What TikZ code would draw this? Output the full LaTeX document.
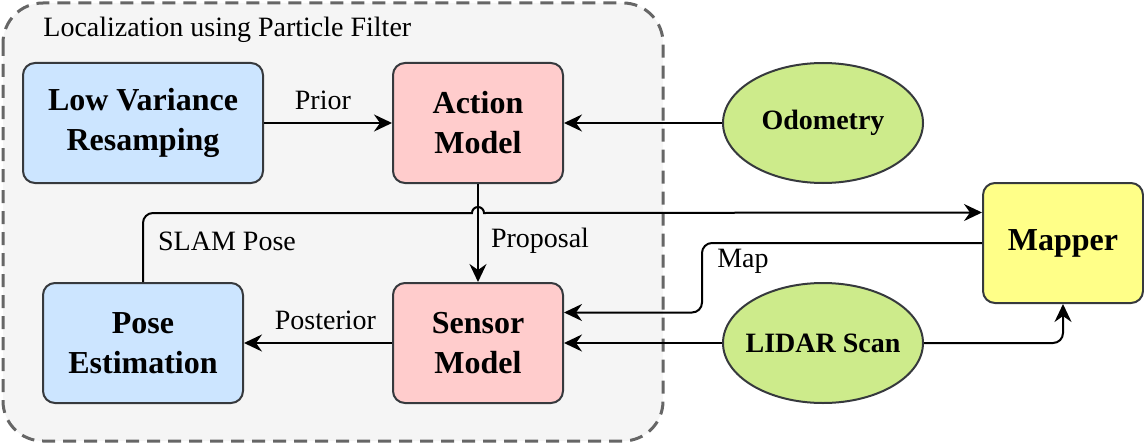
\documentclass[tikz,border=0pt]{standalone}
\usepackage{fontspec}
\setmainfont{Liberation Serif}
\usetikzlibrary{arrows.meta,calc,shapes.geometric}
\definecolor{blueF}{HTML}{CCE5FF}
\definecolor{redF}{HTML}{FFCCCC}
\definecolor{greenF}{HTML}{CDEB8B}
\definecolor{yellowF}{HTML}{FFFF88}
\definecolor{edgeD}{HTML}{36393D}
\definecolor{groupF}{HTML}{F5F5F5}
\definecolor{groupD}{HTML}{666666}
\tikzset{
  box/.style={draw=edgeD, line width=1pt, rounded corners=6pt, align=center,
    minimum height=60pt, font=\fontsize{16}{20}\selectfont\bfseries},
  ell/.style={ellipse, draw=edgeD, line width=1pt, fill=greenF,
    minimum width=100pt, minimum height=60pt, inner sep=0pt},
  elltext/.style={font=\fontsize{14}{17}\selectfont\bfseries},
  lbl/.style={font=\fontsize{14}{17}\selectfont, inner sep=0pt},
  conn/.style={-{Stealth[length=9pt,width=8.5pt,inset=3pt]}, line width=1pt}
}

\begin{document}
\begin{tikzpicture}[x=0.5pt,y=-0.5pt]
    \useasboundingbox (0,0) rectangle (1144,444);
    % group
    \draw[groupD, fill=groupF, line width=1.5pt, dash pattern=on 6.5pt off 4pt,
      rounded corners=20pt] (3,3) rectangle (663,441);
    \node[lbl, anchor=base west] (title) at (43,37) {Localization using Particle Filter};
    % blocks
    \node[box, fill=blueF, minimum width=120pt] (resamp) at (143,123) {Low Variance\\Resamping};
    \node[box, fill=redF, minimum width=85pt] (action) at (478,123) {Action\\Model};
    \node[ell, label={[elltext]center:Odometry}] (odom) at (823,123) {};
    \node[box, fill=yellowF, minimum width=80pt] (mapper) at (1063,243) {Mapper};
    \node[box, fill=blueF, minimum width=100pt] (pose) at (143,343) {Pose\\Estimation};
    \node[box, fill=redF, minimum width=85pt] (sensor) at (478,343) {Sensor\\Model};
    \node[ell, label={[elltext]center:LIDAR Scan}] (lidar) at (823,343) {};
    \coordinate (slamIn) at ($(mapper.north west)!0.25!(mapper.south west)$);
    \coordinate (mapIn) at ($(sensor.north east)!0.25!(sensor.south east)$);
    % connectors
    \draw[conn] (resamp) -- node[lbl, pos=0.46, above=6pt] {Prior} (action);
    \draw[conn] (odom) -- (action);
    \draw[conn] (action) -- node[lbl, pos=0.58, right=6pt] {Proposal} (sensor);
    \draw[conn] (lidar) -- (sensor);
    \draw[conn] (sensor) -- node[lbl, pos=0.45, above=6pt] {Posterior} (pose);
    \draw[conn, rounded corners=5pt] (pose.north) |- (300,213) [sharp corners] -- (472,213)
      arc[start angle=180, end angle=0, radius=3pt] -- (slamIn);
    \node[lbl] (slamlbl) at (227,241) {SLAM Pose};
    \draw[conn, rounded corners=5pt] (mapper.west) -- ++(-280,0) |- (mapIn);
    \node[lbl] (maplbl) at (743,261) {Map};
    \draw[conn, rounded corners=5pt] (lidar.east) -| (mapper.south);
\end{tikzpicture}
\end{document}
